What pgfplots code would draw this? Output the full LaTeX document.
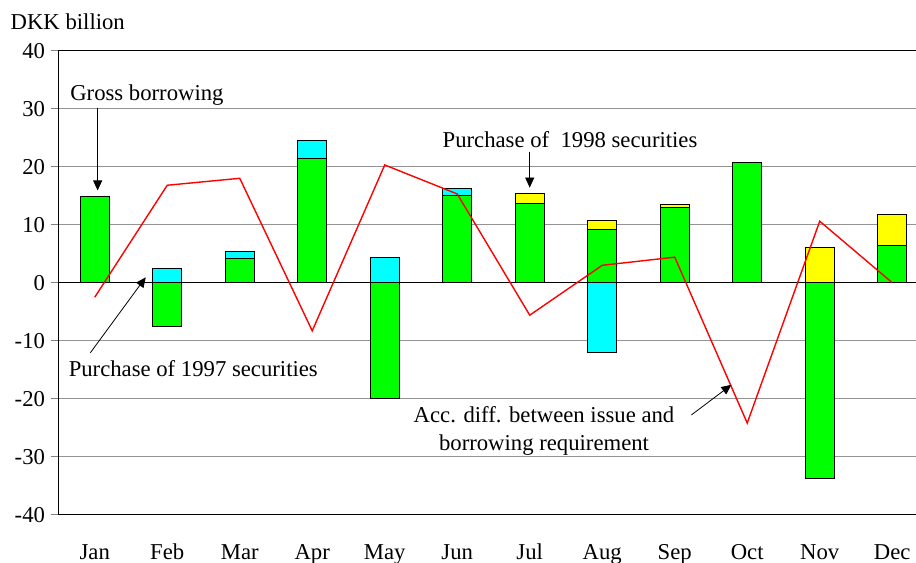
\documentclass[border=0pt]{standalone}
\usepackage{fontspec}
\setmainfont{Liberation Serif}
\usepackage{pgfplots}
\pgfplotsset{compat=1.18}
\usetikzlibrary{arrows.meta}
\definecolor{bargreen}{HTML}{00FF00}
\definecolor{barcyan}{HTML}{00FFFF}
\definecolor{baryellow}{HTML}{FFFF00}
\definecolor{linered}{HTML}{FF0000}
\begin{document}
\begin{tikzpicture}[font=\fontsize{22.7bp}{27bp}\selectfont]
\begin{axis}[
  at={(0,0)}, anchor=south west,
  scale only axis, width=857.5bp, height=464bp,
  xmin=0, xmax=11.828, ymin=-40, ymax=40,
  axis x line*=box, axis y line*=left,
  axis line style={black, line width=1.2bp},
  xtick={0.5,1.5,...,11.5},
  xticklabels={Jan,Feb,Mar,Apr,May,Jun,Jul,Aug,Sep,Oct,Nov,Dec},
  x tick style={draw=none},
  ytick={-40,-30,...,40},
  ymajorgrids, grid style={gray!85, line width=1bp},
  y tick style={gray, line width=1bp},
  tick align=outside, major tick length=7bp,
  /pgf/number format/assume math mode=true,
  yticklabel style={xshift=-3bp},
  xticklabel style={yshift=-19bp, text height=15bp, text depth=5bp},
]
\draw[black, line width=1.2bp] (axis cs:0,0) -- (axis cs:11.828,0);
% stacked totals drawn back to front
\addplot[ybar, bar width=29bp, fill=baryellow, draw=black, line width=1bp]
  coordinates {(6.5,15.3) (7.5,10.8) (8.5,13.5) (10.5,6.1) (11.5,11.7)};
\addplot[ybar, bar width=29bp, fill=barcyan, draw=black, line width=1bp]
  coordinates {(1.5,2.45) (2.5,5.4) (3.5,24.6) (4.5,4.4) (5.5,16.3) (7.5,-12.1)};
\addplot[ybar, bar width=29bp, fill=bargreen, draw=black, line width=1bp]
  coordinates {(0.5,14.9) (1.5,-7.55) (2.5,4.2) (3.5,21.5) (4.5,-20.0) (5.5,15.1)
               (6.5,13.6) (7.5,9.2) (8.5,13.0) (9.5,20.8) (10.5,-33.7) (11.5,6.5)};
% accumulated difference
\addplot[linered, line width=1.4bp, mark=none, sharp plot]
  coordinates {(0.5,-2.5) (1.5,16.8) (2.5,18.0) (3.5,-8.3) (4.5,20.3) (5.5,15.3)
               (6.5,-5.6) (7.5,3.0) (8.5,4.4) (9.5,-24.2) (10.5,10.6) (11.5,0.0)};
% annotations
\node[anchor=base, inner sep=0] at (axis cs:1.22,31.5) {Gross borrowing};
\draw[-{Triangle[length=10bp,width=9bp]}, line width=0.8bp] (axis cs:0.54,30.2) -- (axis cs:0.54,15.9);
\node[anchor=base, inner sep=0] at (axis cs:7.056,23.34) {Purchase of\ \ 1998 securities};
\draw[-{Triangle[length=10bp,width=9bp]}, line width=0.8bp] (axis cs:6.5,22.6) -- (axis cs:6.5,16.4);
\node[anchor=base, inner sep=0] at (axis cs:1.859,-16.2) {Purchase of 1997 securities};
\draw[-{Triangle[length=10bp,width=9bp]}, line width=0.8bp] (axis cs:0.44,-12.07) -- (axis cs:1.203,0.93);
\node[anchor=base, inner sep=0] at (axis cs:6.697,-24.14) {Acc. diff. between issue and};
\node[anchor=base, inner sep=0] at (axis cs:6.697,-28.97) {borrowing requirement};
\draw[-{Triangle[length=10bp,width=9bp]}, line width=0.8bp] (axis cs:8.73,-22.8) -- (axis cs:9.282,-17.6);
\end{axis}
\node[anchor=base west, inner sep=0] at (-48bp,485bp) {DKK billion};
\pgfresetboundingbox
\path (-58.5bp,-48.3bp) rectangle (857.5bp,514.7bp);
\end{tikzpicture}
\end{document}
